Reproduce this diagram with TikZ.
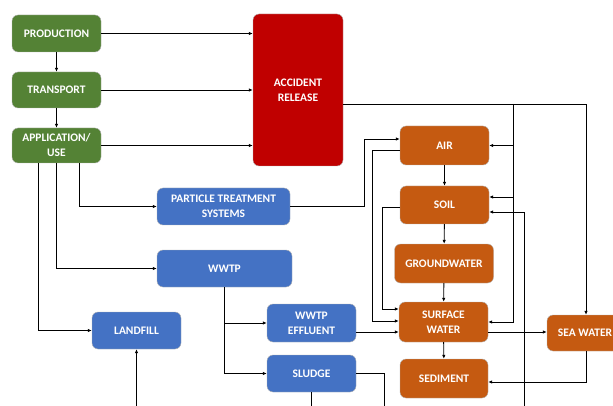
\documentclass[tikz,border=0pt]{standalone}
\usepackage{fontspec}
\setmainfont{Carlito}
\usepackage{xcolor}
\usepackage{tikz}
\usetikzlibrary{arrows.meta}
\definecolor{stagegreen}{RGB}{84,130,53}
\definecolor{accred}{RGB}{192,0,0}
\definecolor{envorange}{RGB}{197,90,17}
\definecolor{techblue}{RGB}{68,114,196}

\begin{document}
\begin{tikzpicture}[x=1pt, y=-1pt,
	box/.style={rectangle, rounded corners=6pt, draw=white!70!black, line width=0.4pt, text=white, align=center, inner sep=0pt, font=\bfseries\fontsize{11.5}{15}\selectfont},
	arr/.style={-{Latex[length=4pt,width=3.5pt]}, line width=0.9pt},
	ln/.style={line width=0.9pt}]
			\useasboundingbox (0,0) rectangle (613,406);
			% Nodes
			\node[box, fill=stagegreen, minimum width=89pt, minimum height=37pt] (prod) at (56.5,33.5) {PRODUCTION};
			\node[box, fill=stagegreen, minimum width=89pt, minimum height=36pt] (trans) at (56.5,90) {TRANSPORT};
			\node[box, fill=stagegreen, minimum width=89pt, minimum height=35pt] (app) at (56.5,145.5) {APPLICATION/\\USE};
			\node[box, fill=accred, minimum width=90pt, minimum height=152pt] (acc) at (298,90) {ACCIDENT\\RELEASE};
			\node[box, fill=techblue, minimum width=133pt, minimum height=37pt] (pts) at (223.5,206.5) {PARTICLE TREATMENT\\SYSTEMS};
			\node[box, fill=techblue, minimum width=135pt, minimum height=37pt] (wwtp) at (224.5,268.5) {WWTP};
			\node[box, fill=techblue, minimum width=89pt, minimum height=37pt] (landfill) at (136.5,330.5) {LANDFILL};
			\node[box, fill=techblue, minimum width=89pt, minimum height=38pt] (eff) at (311.5,323) {WWTP\\EFFLUENT};
			\node[box, fill=techblue, minimum width=89pt, minimum height=37pt] (sludge) at (311.5,373.5) {SLUDGE};
			\node[box, fill=envorange, minimum width=89pt, minimum height=39pt] (air) at (444.5,145.5) {AIR};
			\node[box, fill=envorange, minimum width=89pt, minimum height=38pt] (soil) at (444.5,205) {SOIL};
			\node[box, fill=envorange, minimum width=99pt, minimum height=39pt] (gw) at (444,263.5) {GROUNDWATER};
			\node[box, fill=envorange, minimum width=89pt, minimum height=40pt] (sw) at (443.5,322) {SURFACE\\WATER};
			\node[box, fill=envorange, minimum width=88pt, minimum height=39pt] (sed) at (444,378.5) {SEDIMENT};
			\node[box, fill=envorange, minimum width=76pt, minimum height=36pt] (sea) at (585,333) {SEA WATER};
			% Loose ends below the frame
			\coordinate (bus) at (513,104);
			\coordinate (lfin) at (136.5,412);
			\coordinate (soilin) at (524,412);
			% Life cycle edges
			\draw[arr] (prod) -- (trans);
			\draw[arr] (trans) -- (app);
			\draw[arr] (prod) -- (prod -| acc.west);
			\draw[arr] (trans) -- (trans -| acc.west);
			\draw[arr] (app) -- (app -| acc.west);
			\draw[arr] ([xshift=22.5pt]app.south) |- (pts.west);
			\draw[arr] (app.south) |- (wwtp.west);
			\draw[arr] ([xshift=-18.5pt]app.south) |- (landfill.west);
			\draw[arr] (lfin) -- (landfill.south);
			% Treatment edges
			\draw[arr] (wwtp.south) |- (eff.west);
			\draw[arr] (wwtp.south) |- (sludge.west);
			\draw[ln] (sludge.south) -- ++(0,20);
			\draw[ln] (sludge.east) -- ++(28,0) -- ++(0,40);
			\draw[arr] (pts.east) -- ++(74,0) |- ([yshift=6.5pt]air.west);
			\draw[arr] ([yshift=-9pt]eff.east) coordinate (effout) -- (effout -| sw.west);
			% Environmental edges
			\draw[arr] (air) -- (soil);
			\draw[arr] (soil) -- (gw);
			\draw[arr] (gw) -- (sw);
			\draw[arr] (sw) -- (sed);
			\draw[arr] ([yshift=-4.5pt]air.west) -- ++(-27,0) |- ([yshift=1pt]sw.west);
			\draw[arr] ([yshift=-2pt]soil.west) -- ++(-17,0) |- ([yshift=13pt]sw.west);
			\draw[arr] ([yshift=-14pt]acc.east) -| ([xshift=1pt]sea.north);
			\draw[arr] (bus) |- (sw.east);
			\draw[arr] (bus |- air.east) -- (air.east);
			\draw[arr] (bus |- soil.east) ++(0,-8) -- ([yshift=8pt]soil.east);
			\draw[arr] (soilin) |- ([yshift=-7pt]soil.east);
			\draw[arr] ([yshift=-10pt]sw.east) coordinate (swout) -- (swout -| sea.west);
			\draw[arr] ([xshift=1pt]sea.south) |- ([yshift=-3.5pt]sed.east);
		\end{tikzpicture}
\end{document}
